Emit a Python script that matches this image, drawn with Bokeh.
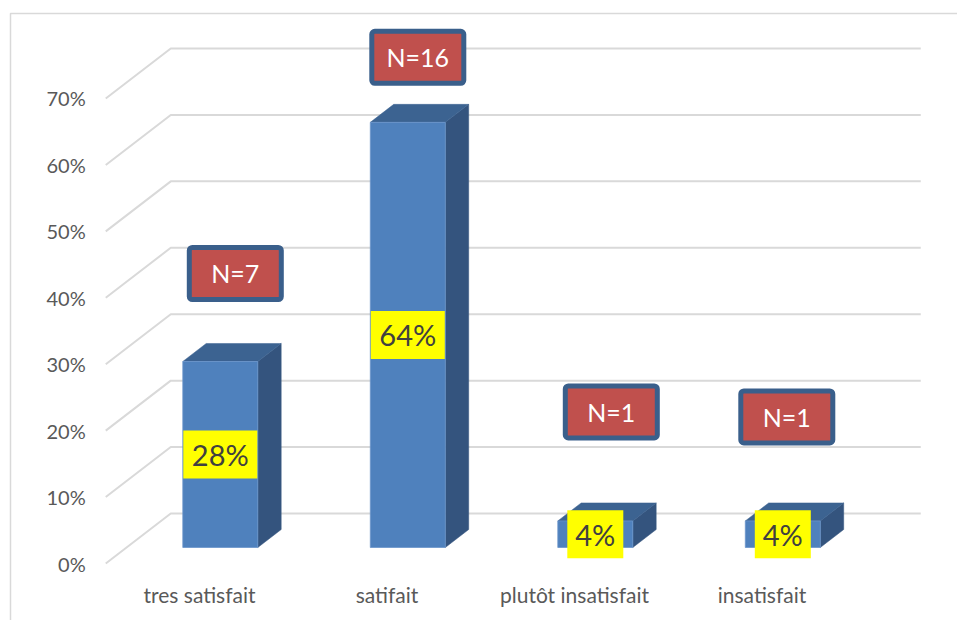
from bokeh.plotting import figure
from bokeh.models import Range1d, ColumnDataSource
from bokeh.core.properties import value
from bokeh.embed import file_html
from bokeh.resources import INLINE

# --- data ---------------------------------------------------------------
categories = ["tres satisfait", "satifait", "plutôt insatisfait", "insatisfait"]
percent = [28, 64, 4, 4]
counts = [7, 16, 1, 1]
y_ticks = [0, 10, 20, 30, 40, 50, 60, 70]
tick_labels = ["0%", "10%", "20%", "30%", "40%", "50%", "60%", "70%"]

# --- layout constants (pixels) -----------------------------------------
W, H = 957, 620
PX_PER_CAT = 187.5          # horizontal distance between categories
PX_PER_PCT = 6.643          # vertical pixels per percentage point
ORIGIN_X = 199.0            # screen x of category 0 on the front plane
ORIGIN_Y = 563.0            # screen y of 0% on the front plane
DEPTH_DX, DEPTH_DY = 65.0, 50.0   # oblique projection of full depth
BAR_D0, BAR_D1 = 0.32, 0.68       # bar occupies this slice of depth
BAR_HALF = 37.5 / PX_PER_CAT
FONT = value("Lato")

# per-box nudges of the count call-outs (screen px, right / up from bar top)
callout_dx = [15, 10, 16, 4]
callout_dy = [88, 65, 109, 104]

x0 = -ORIGIN_X / PX_PER_CAT
x1 = (W - ORIGIN_X) / PX_PER_CAT
y0 = -(H - ORIGIN_Y) / PX_PER_PCT
y1 = ORIGIN_Y / PX_PER_PCT

ddx = DEPTH_DX / PX_PER_CAT      # depth vector in data units
ddy = DEPTH_DY / PX_PER_PCT


def proj(cx, v, d):
    """Project (category, value, depth) to data coordinates."""
    return cx + d * ddx, v + d * ddy


p = figure(width=W, height=H, output_backend="svg", toolbar_location=None,
           x_range=Range1d(x0, x1), y_range=Range1d(y0, y1),
           min_border=0, min_border_left=0, min_border_right=0,
           min_border_top=0, min_border_bottom=0)
p.axis.visible = False
p.grid.visible = False
p.outline_line_color = None
p.background_fill_color = "white"
p.border_fill_color = "white"

# chart-area frame (top and left edges)
fx = (10 - ORIGIN_X) / PX_PER_CAT
fy = (ORIGIN_Y - 13) / PX_PER_PCT
p.line([fx, fx, x1 + 1], [y0 - 1, fy, fy], line_color="#D9D9D9", line_width=1.5)

# gridlines: oblique segment on the side wall, then along the back wall
left_cat, right_cat = -0.5, 3.5
gx, gy = [], []
for t in y_ticks:
    ax, ay = proj(left_cat, t, 0.0)
    bx, by = proj(left_cat, t, 1.0)
    cx, cy = proj(right_cat, t, 1.0)
    gx.append([ax, bx, cx])
    gy.append([ay, by, cy])
p.multi_line(gx, gy, line_color="#D9D9D9", line_width=2)

# y tick labels
p.text(x=[left_cat] * len(y_ticks), y=y_ticks, text=tick_labels,
       x_offset=-20, text_align="right", text_baseline="middle",
       text_font_size="20px", text_color="#595959", text_font=FONT)

# 3-D bars
front_l, front_r, front_b, front_t = [], [], [], []
side_xs, side_ys, top_xs, top_ys = [], [], [], []
dd = BAR_D1 - BAR_D0
for i, v in enumerate(percent):
    l, b = proj(i - BAR_HALF, 0, BAR_D0)
    r, t = proj(i + BAR_HALF, v, BAR_D0)
    front_l.append(l); front_r.append(r); front_b.append(b); front_t.append(t)
    side_xs.append([r, r + dd * ddx, r + dd * ddx, r])
    side_ys.append([b, b + dd * ddy, t + dd * ddy, t])
    top_xs.append([l, r, r + dd * ddx, l + dd * ddx])
    top_ys.append([t, t, t + dd * ddy, t + dd * ddy])

p.patches(side_xs, side_ys, fill_color="#34547E", line_color="#34547E", line_width=0.5)
p.patches(top_xs, top_ys, fill_color="#3C6391", line_color="#3C6391", line_width=0.5)
p.quad(left=front_l, right=front_r, bottom=front_b, top=front_t,
       fill_color="#4F81BD", line_color="#6B95CB", line_width=0.8)

# percentage labels on yellow boxes, centred on the front face
lab_x = [(a + b) / 2 for a, b in zip(front_l, front_r)]
lab_y = [(a + b) / 2 for a, b in zip(front_b, front_t)]
pct_text = [f"{v}%" for v in percent]
box_w = [20 + 18 * len(s) for s in pct_text]
src = ColumnDataSource(dict(x=lab_x, y=lab_y, t=pct_text, w=box_w))
p.rect(x="x", y="y", width="w", height=48, width_units="screen",
       height_units="screen", source=src, fill_color="#FFFF00", line_color=None)
p.text(x="x", y="y", text="t", source=src, text_align="center",
       text_baseline="middle", text_font_size="29px", text_color="#404040",
       text_font=FONT)

# count call-outs above each bar
n_text = [f"N={n}" for n in counts]
n_x = [lab_x[i] + callout_dx[i] / PX_PER_CAT for i in range(len(counts))]
n_y = [front_t[i] + callout_dy[i] / PX_PER_PCT for i in range(len(counts))]
n_w = [92 if len(s) < 5 else 96 for s in n_text]
n_h = [52 if len(s) < 5 else 58 for s in n_text]
nsrc = ColumnDataSource(dict(x=n_x, y=n_y, t=n_text, w=n_w, h=n_h))
p.rect(x="x", y="y", width="w", height="h", width_units="screen",
       height_units="screen", source=nsrc, fill_color="#C0504D",
       line_color="#3A5F8B", line_width=5, border_radius=3)
p.text(x="x", y="y", text="t", source=nsrc, text_align="center",
       text_baseline="middle", text_font_size="25px", text_color="white",
       text_font=FONT)

# category labels below the floor
cat_y = -(594 - ORIGIN_Y) / PX_PER_PCT
p.text(x=list(range(len(categories))), y=[cat_y] * len(categories),
       text=categories, text_align="center", text_baseline="middle",
       text_font_size="21px", text_color="#595959", text_font=FONT)

open("out.html", "w").write(file_html(p, INLINE))
